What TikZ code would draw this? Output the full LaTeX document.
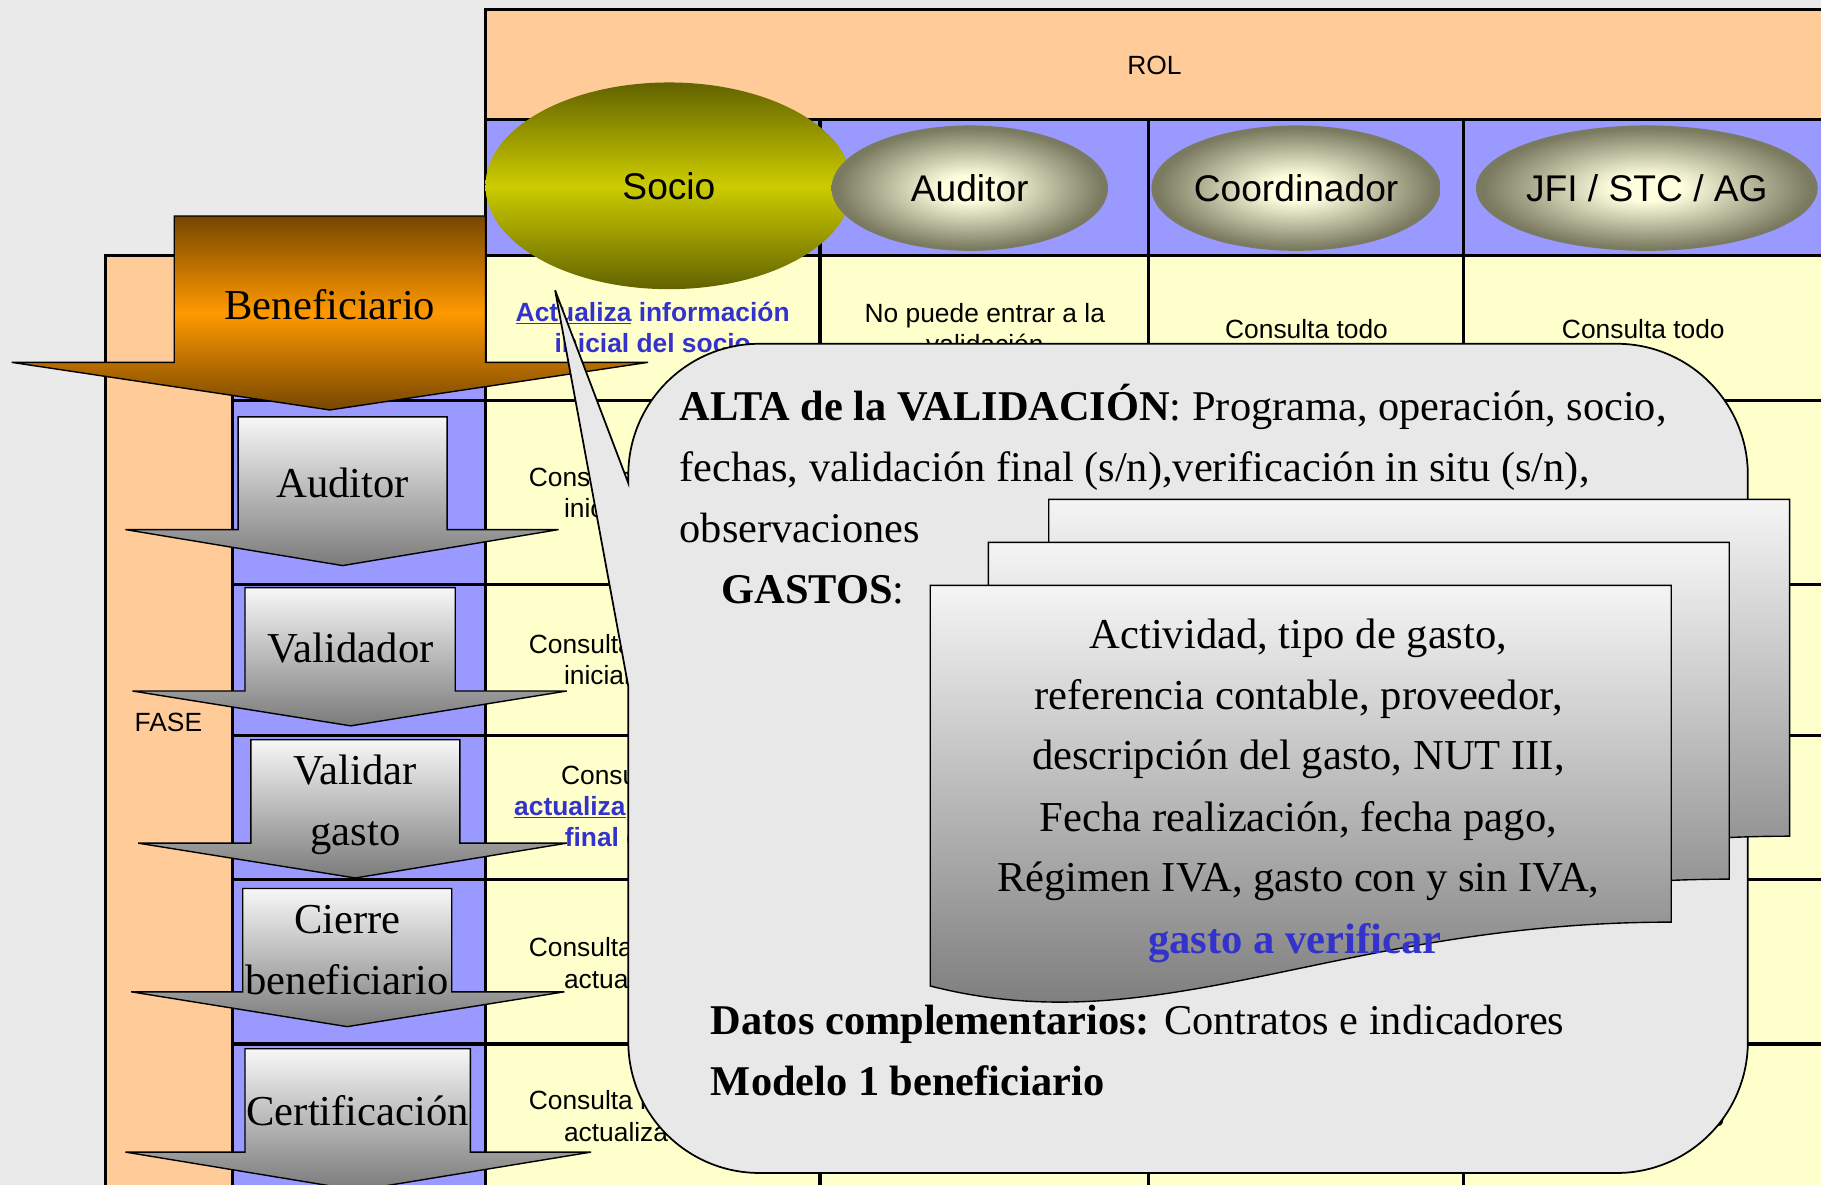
\documentclass[tikz,border=0pt]{standalone}
\usepackage{fontspec}
\setmainfont{Liberation Serif}
\setsansfont{Liberation Sans}
\usetikzlibrary{shapes.geometric}

\definecolor{fondo}{HTML}{EAEAEA}
\definecolor{melocoton}{HTML}{FFCC99}
\definecolor{lila}{HTML}{9999FF}
\definecolor{crema}{HTML}{FFFFCC}
\definecolor{azultexto}{HTML}{3333CC}
\definecolor{olivo}{HTML}{626200}
\definecolor{amarillo}{HTML}{CCCC00}
\definecolor{rolin}{HTML}{FFFFE0}
\definecolor{rolout}{HTML}{7A7A60}
\definecolor{marron}{HTML}{774600}
\definecolor{naranja}{HTML}{FF9900}
\definecolor{globogris}{HTML}{E8E8E8}

\pgfdeclareradialshading[rolin,rolout]{rolshade}{\pgfpoint{0bp}{0bp}}{color(0bp)=(rolin); color(5bp)=(rolin); color(24bp)=(rolout); color(50bp)=(rolout)}

\tikzset{
  hojaestilo/.style={draw=black,line width=1.2pt,top color=white!96!black,bottom color=black!55},
  hoja/.pic={\draw[hojaestilo] (0,0) -- (638,0) -- (638,290) .. controls (349,290) and (199,396) .. (0,345) -- cycle;}
}

\begin{document}
\begin{tikzpicture}[x=1pt,y=-1pt,
  rejilla/.style={line width=2.8pt},
  celda/.style={font=\sffamily\fontsize{22.7}{27}\selectfont,align=center,inner sep=0pt},
  enlace/.style={celda,text=azultexto,font=\sffamily\bfseries\fontsize{22.7}{27}\selectfont},
  rol/.style={ellipse,inner sep=0pt,font=\sffamily\fontsize{32}{36}\selectfont},
  rolgris/.style={rol,shade,shading=rolshade,minimum height=108pt},
  fase/.style={draw=black,line width=1.2pt,top color=white!97!black,bottom color=black!52},
  fasetexto/.style={font=\fontsize{36.7}{53}\selectfont,align=center,inner sep=0pt},
  globo/.style={draw=black,line width=1.5pt,fill=globogris},
  globotexto/.style={font=\fontsize{36.5}{52.5}\selectfont,inner sep=0pt,anchor=base west},
  hojatexto/.style={font=\fontsize{36.7}{52.5}\selectfont,inner sep=0pt,anchor=base}]

\useasboundingbox (0,0) rectangle (1568,1020);

% tabla
	\fill[fondo] (0,0) rectangle (1568,1020);
	\fill[melocoton] (418,8) rectangle (1580,103);
	\fill[lila] (418,103) rectangle (1580,220);
	\fill[crema] (418,220) rectangle (1580,1030);
	\fill[melocoton] (91,220) rectangle (200,1030);
	\fill[lila] (200,220) rectangle (418,1030);

	\draw[rejilla] (418,1030) -- (418,8) -- (1580,8);
	\draw[rejilla] (418,103) -- (1580,103);
	\draw[rejilla] (91,1030) -- (91,220) -- (1580,220);
	\draw[rejilla] (200,220) -- (200,1030);
	\foreach \y in {345,503,633,757,899}
		\draw[rejilla] (200,\y) -- (1580,\y);
	\foreach \x in {706,989,1260}
		\draw[rejilla] (\x,103) -- (\x,1030);

	\node[celda] (rol) at (994,56) {ROL};
	\node[celda] (fase) at (145,622) {FASE};

	% celdas
	\node[enlace] (c11) at (562,282) {\underline{Actualiza} información\\inicial del socio};
	\node[celda] (c12) at (848,283) {No puede entrar a la\\validación};
	\node[celda] (c13) at (1125,283) {Consulta todo};
	\node[celda] (c14) at (1415,283) {Consulta todo};
	\node[celda] (c21) at (562,424) {Consulta información\\inicial del socio};
	\node[celda] (c31) at (562,568) {Consulta información\\inicial del socio};
	\node[celda] (c41) at (562,694) {Consulta todo y\\\textcolor{azultexto}{\bfseries\underline{actualiza} la validación}\\\textcolor{azultexto}{\bfseries final del socio}};
	\node[celda] (c51) at (562,829) {Consulta información\\actualiza cierre};
	\node[celda] (c61) at (562,961) {Consulta información\\actualiza cierre};
	\node[celda] (c64) at (1415,962) {Consulta todo};

% roles
	\node[rol,minimum width=316pt,minimum height=178pt,top color=olivo,bottom color=olivo,middle color=amarillo] (socio) at (576,160) {Socio};
	\node[rolgris,minimum width=238pt] (auditor) at (835,162) {Auditor};
	\node[rolgris,minimum width=237pt] (coord) at (1116,162) {Coordinador};
	\node[rolgris,minimum width=293pt] (jfi) at (1418,162) {JFI / STC / AG};

% fases
	\draw[line width=1.2pt,top color=marron,bottom color=marron,middle color=naranja] (150,186) -- (418,186) -- (418,312) -- (558,312) -- (284,353) -- (10,312) -- (150,312) -- cycle;
	\node[fasetexto] (benef) at (284,262) {Beneficiario};

	\draw[fase] (205,359) -- (385,359) -- (385,456) -- (481,456) -- (295,487) -- (108,456) -- (205,456) -- cycle;
	\node[fasetexto] (fauditor) at (295,416) {Auditor};

	\draw[fase] (211,506) -- (392,506) -- (392,595) -- (488,595) -- (302,625) -- (114,595) -- (211,595) -- cycle;
	\node[fasetexto] (fvalidador) at (302,558) {Validador};

	\draw[fase] (216,637) -- (396,637) -- (396,726) -- (488,726) -- (306,756) -- (119,726) -- (216,726) -- cycle;
	\node[fasetexto] (fvalidar) at (306,693) {Validar\\gasto};

	\draw[fase] (209,765) -- (389,765) -- (389,854) -- (486,854) -- (299,884) -- (113,854) -- (209,854) -- cycle;
	\node[fasetexto] (fcierre) at (299,818) {Cierre\\beneficiario};

	\draw[fase] (211,903) -- (405,903) -- (405,992) -- (509,992) -- (308,1025) -- (108,992) -- (211,992) -- cycle;
	\node[fasetexto] (fcertif) at (308,956) {Certificación};

% globo
	\draw[globo] (541,416) -- (541,409) .. controls (541,346.6) and (591.6,296) .. (654,296) -- (1392,296) .. controls (1454.4,296) and (1505,346.6) .. (1505,409) -- (1505,897) .. controls (1505,959.4) and (1454.4,1010) .. (1392,1010) -- (654,1010) .. controls (591.6,1010) and (541,959.4) .. (541,897) -- (541,591) -- (478,250) -- cycle;

	\node[globotexto] (alta) at (585,362) {\textbf{ALTA de la VALIDACIÓN}: Programa, operación, socio,};
	\node[globotexto] (fechas) at (585,415) {fechas, validación final (s/n),verificación in situ (s/n),};
	\node[globotexto] (obs) at (585,467) {observaciones};
	\node[globotexto] (gastos) at (621,520) {\textbf{GASTOS}:};

	% hojas de gasto
	\pic (hojaA) at (903,430) {hoja};
	\pic (hojaB) at (851,467) {hoja};
	\pic (hojaC) at (801,504) {hoja};

	\node[hojatexto] (g1) at (1118,558) {Actividad, tipo de gasto,};
	\node[hojatexto] (g2) at (1118,611) {referencia contable, proveedor,};
	\node[hojatexto] (g3) at (1118,663) {descripción del gasto, NUT III,};
	\node[hojatexto] (g4) at (1118,716) {Fecha realización, fecha pago,};
	\node[hojatexto] (g5) at (1118,768) {Régimen IVA, gasto con y sin IVA,};
	\node[hojatexto,text=azultexto] (g6) at (1115,821) {\textbf{gasto a verificar}};

	\node[globotexto] (datos) at (612,891) {\textbf{Datos complementarios:} Contratos e indicadores};
	\node[globotexto] (modelo) at (612,943) {\textbf{Modelo 1 beneficiario}};
\end{tikzpicture}
\end{document}
